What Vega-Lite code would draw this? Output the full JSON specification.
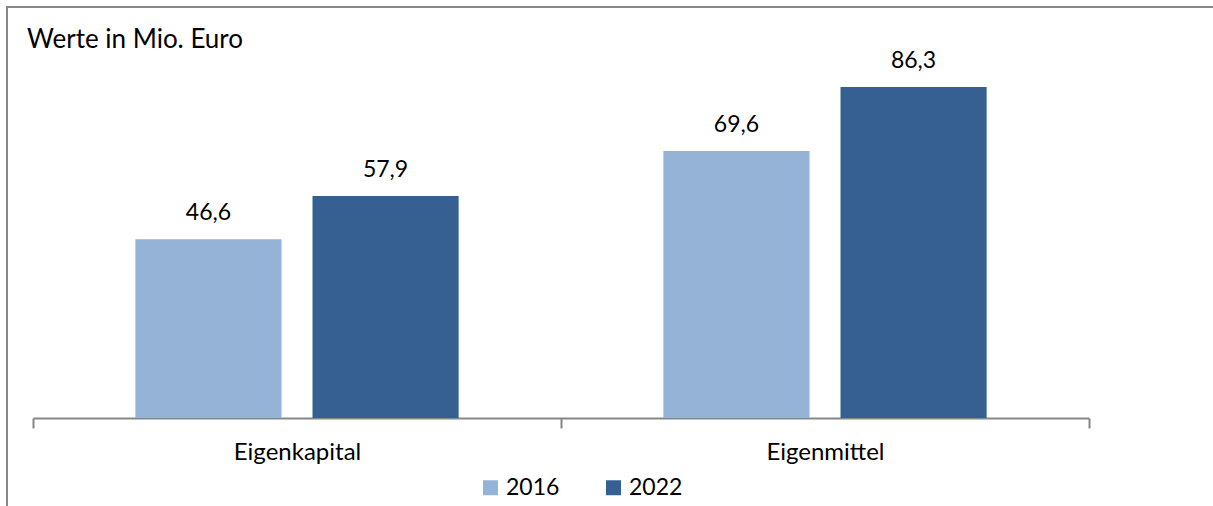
{
  "$schema": "https://vega.github.io/schema/vega-lite/v6.json",
  "autosize": {"type": "none"},
  "padding": {"left": 7, "top": 7, "right": 0, "bottom": 0},
  "width": 1210,
  "height": 503,
  "config": {
    "font": "Lato",
    "view": {"stroke": "#878787", "strokeWidth": 2},
    "locale": {"number": {"decimal": ",", "thousands": ".", "grouping": [3], "currency": ["", " €"]}}
  },
  "title": {
    "text": "Werte in Mio. Euro",
    "orient": "top",
    "anchor": "start",
    "frame": "group",
    "baseline": "alphabetic",
    "offset": 0,
    "dx": 20,
    "dy": 67,
    "fontSize": 26,
    "fontWeight": "normal",
    "color": "#000000"
  },
  "data": {
    "values": [
      {"kategorie": "Eigenkapital", "jahr": "2016", "wert": 46.6},
      {"kategorie": "Eigenkapital", "jahr": "2022", "wert": 57.9},
      {"kategorie": "Eigenmittel", "jahr": "2016", "wert": 69.6},
      {"kategorie": "Eigenmittel", "jahr": "2022", "wert": 86.3}
    ]
  },
  "encoding": {
    "x": {
      "field": "kategorie",
      "type": "nominal",
      "sort": ["Eigenkapital", "Eigenmittel"],
      "scale": {"range": [26, 1082], "paddingInner": 0, "paddingOuter": 0},
      "axis": {
        "title": null,
        "tickBand": "extent",
        "offset": -92,
        "domainColor": "#878787",
        "domainWidth": 2,
        "tickColor": "#878787",
        "tickWidth": 2,
        "tickSize": 10,
        "labelFontSize": 24,
        "labelColor": "#000000",
        "labelPadding": 12,
        "labelAngle": 0
      }
    },
    "xOffset": {
      "field": "jahr",
      "type": "nominal",
      "scale": {"paddingInner": 0.175, "paddingOuter": 0.578}
    },
    "y": {
      "field": "wert",
      "type": "quantitative",
      "scale": {"domain": [0, 100], "range": [411, 27.5]},
      "axis": null
    }
  },
  "layer": [
    {
      "mark": {"type": "bar"},
      "encoding": {
        "color": {
          "field": "jahr",
          "type": "nominal",
          "scale": {"domain": ["2016", "2022"], "range": ["#95B3D7", "#376092"]},
          "legend": {
            "title": null,
            "orient": "none",
            "legendX": 472,
            "legendY": 469,
            "direction": "horizontal",
            "symbolType": "square",
            "symbolSize": 225,
            "symbolStrokeWidth": 0,
            "labelFontSize": 23,
            "labelOffset": 4,
            "columnPadding": 42,
            "labelColor": "#000000"
          }
        }
      }
    },
    {
      "mark": {"type": "text", "dy": -19, "baseline": "alphabetic", "fontSize": 23, "color": "#000000"},
      "encoding": {
        "text": {"field": "wert", "type": "quantitative", "format": ".1f"}
      }
    }
  ]
}
